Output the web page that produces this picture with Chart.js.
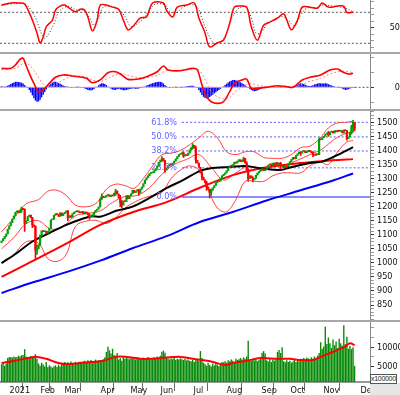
<!DOCTYPE html>
<html>
<head>
<meta charset="utf-8">
<script src="https://cdn.jsdelivr.net/npm/chart.js@4.4.0/dist/chart.umd.min.js"></script>
<style>
body { margin: 0; width: 400px; height: 395px; overflow: hidden; position: relative; background: #fff; }
canvas { position: absolute; left: 0; }
.sep { position: absolute; left: 0; width: 400px; height: 2px; background: #a8a8a8; }
#corner { position: absolute; left: 370px; top: 383px; width: 30px; height: 12px; background: #e6e6e6; }
#unit { position: absolute; left: 370px; top: 374px; width: 25px; height: 8px; border: 1px solid #555; background: #fff;
        font: 7px 'Liberation Sans', sans-serif; letter-spacing: -0.3px; line-height: 8px; color: #222; overflow: hidden; }
</style>
</head>
<body>
<canvas id="stoch" width="400" height="52" style="top:0"></canvas>
<div class="sep" style="top:52px"></div>
<canvas id="macd" width="400" height="55" style="top:54px"></canvas>
<div class="sep" style="top:109px"></div>
<canvas id="price" width="400" height="209" style="top:111px"></canvas>
<div class="sep" style="top:320px"></div>
<canvas id="volume" width="400" height="73" style="top:322px"></canvas>
<div id="corner"></div>
<div id="unit">x100000</div>

<script>
const FONT = "'Liberation Sans Narrow', 'DejaVu Sans Condensed', 'Liberation Sans', sans-serif";
const X_MIN = -1, X_MAX = 239;

const monthTicks = [3.5, 23.6, 39.2, 62.6, 82, 101.5, 122.9, 144.3, 167, 185.8, 207.2, 231.2];
const monthLabels = ["2021", "Feb", "Mar", "Apr", "May", "Jun", "Jul", "Aug", "Sep", "Oct", "Nov", "Dec"];

// daily closes, trading day 0 = late Dec 2020
const firstOpen = 1072;
const closes = [
    1078, 1086, 1094, 1103,
    1120, 1132, 1143, 1156, 1167, 1180, 1185, 1178, 1188, 1194, 1190, 1140, 1150, 1165, 1170, 1160, 1135, 1130, 1045, 1050,
    1065, 1095, 1114, 1111, 1113, 1105, 1112, 1123, 1153, 1155, 1169, 1175, 1172, 1165, 1178, 1168,
    1175, 1180, 1185, 1160, 1168, 1162, 1175, 1180, 1182, 1185, 1180, 1178, 1183, 1174, 1180, 1178, 1170, 1162, 1165, 1172, 1180, 1187, 1191,
    1199, 1228, 1237, 1232, 1234, 1240, 1242, 1236, 1240, 1238, 1248, 1256, 1245, 1230, 1215, 1205, 1220, 1218, 1239,
    1228, 1238, 1246, 1258, 1250, 1255, 1260, 1248, 1262, 1270, 1282, 1295, 1303, 1310, 1318, 1320, 1321, 1328, 1336, 1345,
    1358, 1366, 1372, 1362, 1330, 1338, 1345, 1352, 1348, 1355, 1362, 1370, 1378, 1385, 1388, 1392, 1380, 1385, 1382, 1390, 1402,
    1410, 1418, 1408, 1365, 1355, 1340, 1320, 1305, 1295, 1285, 1270, 1262, 1250, 1258, 1267, 1275, 1285, 1292, 1290, 1300, 1310,
    1315, 1320, 1328, 1338, 1345, 1343, 1350, 1358, 1355, 1362, 1367, 1360, 1365, 1372, 1355, 1332, 1300, 1310, 1302, 1295, 1300, 1312, 1320,
    1325, 1330, 1335, 1328, 1332, 1340, 1348, 1352, 1345, 1355, 1348, 1357, 1350, 1355, 1342, 1345, 1338, 1345, 1342,
    1352, 1360, 1368, 1375, 1370, 1382, 1388, 1393, 1390, 1396, 1398, 1392, 1395, 1400, 1396, 1392, 1385, 1382, 1388, 1385, 1440,
    1438, 1445, 1450, 1458, 1462, 1455, 1465, 1468, 1462, 1470, 1466, 1472, 1468, 1470, 1462, 1473, 1470, 1442, 1448, 1465, 1485, 1500, 1478
];

// [trading day, low, high] for the sessions with visible shadows
const wicks = [[13, 1180, 1199], [15, 1112, 1192], [20, 1125, 1162], [22, 1015, 1132], [23, 1030, 1062], [25, 1060, 1100],
    [43, 1150, 1186], [57, 1155, 1175], [65, 1225, 1245], [74, 1240, 1262], [77, 1200, 1240], [78, 1195, 1222],
    [89, 1240, 1262], [104, 1360, 1378], [106, 1322, 1365], [118, 1375, 1395], [124, 1405, 1424], [126, 1355, 1415],
    [130, 1295, 1325], [133, 1258, 1290], [135, 1231, 1262], [136, 1240, 1262], [157, 1360, 1376], [159, 1325, 1360],
    [160, 1290, 1335], [163, 1288, 1306], [181, 1335, 1358], [194, 1382, 1396], [202, 1378, 1396], [206, 1385, 1445],
    [212, 1450, 1468], [224, 1436, 1470], [227, 1458, 1490], [228, 1465, 1507], [229, 1470, 1500]];

const volumes = [
    5600, 6000, 5200, 5800,
    7200, 7400, 7500, 7300, 7600, 7400, 7500, 7800, 7600,
    7900, 8000, 9500,
    7600, 7300, 7500, 7700, 7400, 7600, 8200, 7000,
    5800, 5200, 6000, 5500, 5000, 6200,
    4800, 5300, 5000, 4700, 5100, 5300, 4900, 5500, 5000,
    5800, 6000, 6200, 5700, 6100, 5900, 6300, 5800, 6000, 6200, 5900, 6100, 6300, 6000, 6400,
    6500, 6300, 6600, 6400, 6700, 6200, 6500, 6800, 6400, 6600, 6700, 6500, 6900, 7400, 8800,
    10100, 9200, 8400, 9600, 8000, 7800, 8500,
    6800, 7200, 6500, 7600, 7000, 7400,
    7100, 6900, 7300, 7000, 7200, 6800, 7400, 7100, 6900, 7000, 7300, 6800, 7200, 7500, 7000, 6900, 7100, 7400, 7000, 7600, 7200, 7800,
    8800, 9100, 8600, 7500,
    7000, 6800, 7100, 6900, 7200, 6700, 7000, 6800, 7100, 6900, 6700, 7000, 6600, 6800, 6500,
    6400, 6700, 6200, 6600, 7000, 6500, 9000, 7200, 6000,
    5600, 5200, 6000, 5400, 5000, 5700, 5300, 5900, 5500, 5100, 5800, 6200,
    6100, 6400, 6000, 6600, 6300, 6800, 6500, 6200, 7000, 6700, 6900, 7200, 6800, 7400, 7000, 7600,
    11700,
    6800, 6500, 7000, 6600, 6900, 6400, 6700, 7100,
    8600, 9000, 8400,
    6600, 6300, 7000, 6200, 6800, 6500, 6900,
    8800, 9300, 8500, 10000,
    6400, 6100, 6600, 6200, 6500, 6000, 6300, 6700, 6200, 6600, 6400,
    7000, 6800, 7200, 6900, 7300, 7100, 6800, 7400, 7000, 7600, 7200, 7800, 8500,
    11300, 9600, 10200,
    15300,
    10800, 12500, 11000, 9800, 12000, 10500, 11500, 9800, 12200, 11000, 10400,
    15700,
    10800, 12700, 9600, 10300, 9500, 10000, 5200
];

const macdHist = [
    0.8, 0.6, 0.5, 0.7, 1.0, 1.5, 2.2, 2.8, 3.3, 3.7,
    3.8, 3.6, 3.4, 3.1, 2.5, 1.5, 0.5, -0.5, -1.8, -3.5, -5.5,
    -7.5, -9.0, -9.8, -9.6, -8.5, -6.8, -5.0, -3.2, -1.5,
    0.2, 1.4, 2.4, 3.2, 3.7, 3.8, 3.5, 3.0, 2.4, 1.8, 1.2, 0.8, 0.5,
    0.2, 0.0, -0.2, -0.4, -0.3, -0.2, 0.1, 0.2, -0.1, -0.3, -0.5, -0.8,
    -1.2, -1.8, -2.0, -2.1, -1.8, -1.2, -0.4, 0.5,
    1.4, 2.2, 2.7, 2.6, 2.2, 1.5, 0.6,
    -0.3, -1.0, -1.5, -1.8, -1.7, -1.4, -1.0, -1.3,
    -1.7, -2.0, -2.0, -1.8, -1.5, -1.2, -1.0, -0.8,
    -0.9, -1.0, -1.0, -0.8, -0.5, -0.2, 0.2, 0.6, 1.1,
    1.6, 2.0, 2.4, 2.8, 3.1, 3.4, 3.6, 3.8, 3.7, 3.4, 2.6, 1.6,
    0.8, 0.3, -0.1, -0.3, -0.2, 0.0, 0.1, -0.1, -0.3, -0.2, 0.1, 0.3, 0.5, 0.7,
    0.9, 1.0, 1.1, 1.0, 0.7, 0.3, -0.5, -1.8,
    -3.5, -5.2, -6.5, -7.3, -7.5, -7.2, -6.6, -5.8, -5.0, -4.2, -3.4, -2.6, -1.8, -1.0, -0.3,
    0.6, 1.5, 2.4, 3.2, 3.9, 4.5, 4.9, 5.0, 4.8, 4.4, 3.9, 3.4, 2.8, 2.1, 1.4, 0.6, -0.2,
    -1.0, -1.8, -2.4, -2.7, -2.5, -2.1, -1.6, -1.1, -0.6, -0.2,
    0.2, 0.4, 0.5, 0.5, 0.4, 0.3, 0.2, 0.3, 0.4, 0.2, 0.1, 0.4, 0.8, 1.0, 0.9, 0.6, 0.4, 0.3, 0.5, 0.9, 1.4,
    1.9, 2.4, 2.7, 2.6, 2.2, 1.7, 1.2, 0.9, 0.8, 1.0, 1.4, 1.9, 2.3,
    2.6, 2.7, 2.7, 2.6, 2.6, 2.7, 2.5, 2.1, 1.7, 1.3, 0.9, 0.6, 0.3, 0.1, -0.2, -0.5, -0.9,
    -1.4, -1.8, -1.7, -1.3, -0.8, -0.5, -0.4, -0.5
];

// [trading day, value] pairs
const ma200 = [[0,893],[20,930],[42,967],[64,1008],[85,1052],[107,1095],[129,1146],[150,1181],[172,1222],[194,1258],[215,1293],[228,1318]];
const ma100 = [[0,950],[20,1006],[42,1068],[64,1135],[85,1180],[107,1216],[129,1268],[150,1312],[172,1340],[194,1355],[215,1365],[228,1369]];
const ma50 = [[0,999],[10,1035],[20,1076],[31,1106],[42,1135],[53,1158],[59,1166],[64,1164],[75,1186],[85,1200],[96,1231],[107,1266],
    [118,1295],[129,1328],[135,1336],[148,1341],[159,1344],[169,1336],[181,1330],[187,1339],[200,1355],[208,1360],[218,1384],[228,1412]];
const bbMid = [[0,1050],[8,1090],[16,1140],[24,1150],[32,1120],[40,1130],[48,1168],[56,1176],[64,1185],[72,1215],[80,1236],[88,1240],
    [96,1268],[104,1315],[112,1350],[120,1368],[128,1385],[136,1340],[144,1295],[152,1320],[160,1345],[168,1330],[176,1342],[184,1348],
    [192,1365],[200,1385],[208,1405],[216,1440],[224,1462],[228,1465]];
const bbUpper = [[0,1110],[8,1160],[16,1210],[24,1225],[30,1255],[36,1258],[42,1240],[48,1205],[56,1200],[62,1215],[68,1262],[74,1280],
    [80,1275],[86,1265],[92,1300],[98,1345],[104,1385],[110,1390],[116,1400],[122,1420],[128,1445],[134,1468],[140,1445],[146,1395],
    [152,1385],[158,1395],[164,1395],[170,1375],[176,1372],[182,1372],[188,1385],[194,1410],[200,1415],[206,1440],[212,1480],[218,1498],
    [224,1500],[228,1505]];
const bbLower = [[0,1000],[8,1030],[16,1075],[24,1070],[30,1015],[36,1005],[42,1030],[48,1130],[56,1150],[62,1150],[68,1140],[74,1160],
    [80,1195],[86,1215],[92,1230],[98,1240],[104,1250],[110,1300],[116,1330],[122,1345],[128,1330],[134,1260],[140,1195],[146,1182],
    [152,1225],[158,1290],[164,1290],[170,1290],[176,1310],[182,1320],[188,1320],[194,1320],[200,1345],[206,1360],[212,1350],[218,1395],
    [224,1430],[228,1435]];
const fibLevels = [1500, 1448, 1398, 1338, 1234];
const fibLabels = ["61.8%", "50.0%", "38.2%", "23.6%", "0.0%"];
const fibStart = 117;

const stochK = [[0,94],[6,98],[12,98],[15,96],[18,79],[20,65],[23,40],[25,21],[27,32],[29,52],[33,65],[35,84],[38,92],[41,94],[44,88],
    [48,81],[51,86],[54,84],[56,71],[59,44],[62,65],[64,94],[68,94],[72,90],[76,86],[79,65],[82,46],[85,52],[90,69],[94,71],[98,98],
    [105,98],[107,84],[111,71],[114,90],[120,94],[125,98],[128,69],[132,40],[135,13],[140,21],[144,26],[148,59],[151,90],[155,92],
    [159,90],[162,52],[166,26],[170,55],[174,61],[179,69],[183,77],[185,65],[188,46],[192,65],[195,90],[200,90],[205,88],[208,98],
    [212,90],[218,92],[222,92],[224,80],[228,80]];
const stochD = [[0,93],[6,96],[12,97],[16,95],[20,80],[23,62],[26,38],[28,30],[31,40],[34,58],[37,80],[41,90],[45,90],[49,84],[53,84],
    [57,70],[60,55],[63,70],[66,90],[70,92],[75,88],[80,72],[84,52],[88,58],[92,68],[96,85],[100,96],[106,94],[109,82],[113,78],
    [117,88],[122,95],[127,90],[130,68],[134,38],[138,20],[142,22],[146,40],[150,72],[154,88],[158,91],[162,70],[165,40],[168,40],
    [172,56],[177,65],[182,72],[186,64],[190,54],[194,74],[198,88],[204,89],[208,94],[213,93],[218,91],[223,88],[228,81]];
const stochLevels = [80, 20];

const macdLine = [[0,12.9],[6,12.9],[9,15.2],[12,19],[14,19.7],[15,17.4],[18,9.5],[22,0.4],[24,-3],[27,-1.8],[31,2.7],[35,6.8],
    [40,8.4],[46,7.7],[55,6.1],[59,3.1],[64,5],[69,9.9],[74,10.6],[78,8.4],[82,5.4],[90,5.9],[94,7.2],[101,10.6],[105,14.5],
    [108,11.8],[116,11.3],[124,12.9],[127,11.8],[130,1.6],[133,-6.4],[136,-9.8],[140,-10.9],[144,-9.8],[148,-3],[151,2.7],[156,5],
    [159,5.6],[162,-0.7],[166,-0.7],[172,0],[179,1.1],[185,0.4],[189,0],[195,5],[200,6.8],[207,8.4],[213,11.8],[218,12.4],
    [221,10.6],[225,9],[228,9.5]];
const macdSignal = [[0,12],[9,13],[15,16.5],[18,15],[22,10],[25,5],[28,1],[31,0],[35,2],[40,5],[46,7.5],[55,7],[59,5],[64,4],[69,6],
    [74,8.5],[78,9.5],[82,8],[90,6.5],[94,6.5],[101,8],[105,10.5],[108,11.5],[116,11.5],[124,12],[127,12.5],[130,9],[133,3],[136,-3],
    [140,-6.5],[144,-8],[148,-7],[151,-3.5],[156,0],[159,2],[162,2.5],[166,1.5],[172,0.5],[179,0.5],[185,0.5],[189,0],[195,2],[200,4],
    [207,6],[213,9],[218,10.5],[221,11],[225,10.5],[228,10]];

const volMa = [[0,5900],[8,6450],[17,7200],[23,7500],[29,7000],[37,5900],[42,5650],[51,5900],[59,6200],[66,6500],[74,7500],[81,7500],
    [90,7000],[96,7000],[103,7200],[116,7500],[124,7000],[137,6200],[145,5400],[150,5900],[159,6500],[168,7200],[179,7000],[187,7000],
    [194,6700],[202,6700],[207,7500],[215,8800],[222,10000],[226,11000],[229,10500]];

const UP = '#00a000', DOWN = '#ff0000';

function toXY(pairs) {
    return pairs.map(p => ({x: p[0], y: p[1]}));
}

function openOf(i) {
    return i ? closes[i - 1] : firstOpen;
}

function line(pairs, color, width, dash, order) {
    return {
        type: 'line', data: toXY(pairs), borderColor: color, borderWidth: width,
        borderDash: dash || [], pointRadius: 0, tension: 0.35, fill: false, order: order
    };
}

function hline(value, from, to, color, width, dash, order) {
    return line([[from, value], [to, value]], color, width, dash, order);
}

function rightAxis(min, max, step, labels, far) {
    return {
        position: 'right', min: min, max: max,
        afterFit: s => { s.width = 30; s.paddingTop = 0; s.paddingBottom = 0; },
        afterBuildTicks: s => {
            const t = [];
            for (let v = Math.ceil(min / step) * step; v <= max; v += step) t.push({value: v});
            s.ticks = t;
        },
        ticks: {
            autoSkip: false, padding: 3, crossAlign: far ? 'far' : 'near', color: '#111',
            font: {family: FONT, size: 9},
            callback: v => labels.includes(v) ? String(v) : ''
        },
        grid: {
            drawOnChartArea: false, tickLength: 4,
            tickColor: c => labels.includes(c.tick.value) ? '#333' : '#999'
        },
        border: {color: '#888', width: 1}
    };
}

const hiddenX = {type: 'linear', min: X_MIN, max: X_MAX, offset: false, display: false};

const bottomX = {
    type: 'linear', min: X_MIN, max: X_MAX, offset: false, position: 'bottom',
    afterFit: s => { s.height = 13; s.paddingLeft = 0; s.paddingRight = 0; },
    afterBuildTicks: s => { s.ticks = monthTicks.map(v => ({value: v})); },
    ticks: {
        autoSkip: false, maxRotation: 0, minRotation: 0, align: 'start', padding: -6, color: '#111',
        font: {family: FONT, size: 9},
        callback: (v, i) => ' ' + monthLabels[i]
    },
    grid: {drawOnChartArea: false, tickLength: 9, color: '#666'},
    border: {color: '#999', width: 2}
};

function baseOptions(x, y) {
    return {
        responsive: false, animation: false, events: [],
        layout: {padding: 0},
        plugins: {legend: {display: false}, tooltip: {enabled: false}},
        scales: {x: x, y: y}
    };
}

const fibText = {
    id: 'fibText',
    afterDatasetsDraw(chart) {
        const ctx = chart.ctx, y = chart.scales.y;
        ctx.save();
        ctx.font = "9px " + FONT;
        ctx.fillStyle = '#6464ff';
        ctx.textAlign = 'right';
        ctx.textBaseline = 'middle';
        fibLevels.forEach((v, i) => ctx.fillText(fibLabels[i], 177, y.getPixelForValue(v)));
        ctx.restore();
    }
};

// stochastic
new Chart(document.getElementById("stoch"), {
    type: 'line',
    data: {
        datasets: [
            line(stochK, '#ff0000', 1.5, null, 1),
            line(stochD, '#333333', 1, [1, 2], 2),
            hline(stochLevels[0], X_MIN, X_MAX, '#555555', 1, [2, 2], 3),
            hline(stochLevels[1], X_MIN, X_MAX, '#555555', 1, [2, 2], 3)
        ]
    },
    options: baseOptions(hiddenX, rightAxis(3.16, 103.8, 12.5, [50], true))
});

// macd
new Chart(document.getElementById("macd"), {
    type: 'bar',
    data: {
        datasets: [
            line(macdLine, '#ff0000', 1.6, null, 1),
            line(macdSignal, '#ff8080', 1, [2, 2], 2),
            {
                type: 'bar', data: macdHist.map((v, i) => ({x: i, y: v})),
                backgroundColor: '#0000ff', barPercentage: 0.9, categoryPercentage: 1, order: 3
            },
            hline(0, X_MIN, closes.length - 1, '#ff9090', 1, null, 4),
            hline(0, closes.length - 1, X_MAX, '#555555', 1, [2, 2], 4)
        ]
    },
    options: baseOptions(hiddenX, rightAxis(-14.76, 22.65, 10, [0], true))
});

// price
const priceSets = [
    {
        type: 'bar', grouped: false,
        data: closes.map((c, i) => ({x: i, y: [openOf(i), c]})),
        backgroundColor: closes.map((c, i) => c >= openOf(i) ? UP : DOWN),
        barPercentage: 1, categoryPercentage: 1, minBarLength: 1, order: 1
    },
    {
        type: 'bar', grouped: false,
        data: wicks.map(w => ({x: w[0], y: [w[1], w[2]]})),
        backgroundColor: wicks.map(w => closes[w[0]] >= openOf(w[0]) ? UP : DOWN),
        barThickness: 1, order: 1
    },
    line(ma50, '#000000', 2, null, 2),
    line(ma100, '#ff0000', 2, null, 3),
    line(ma200, '#0000ff', 2, null, 4),
    line(bbUpper, '#ff4040', 1, null, 5),
    line(bbMid, '#ff4040', 1, null, 5),
    line(bbLower, '#ff4040', 1, null, 5)
];
fibLevels.forEach((v, i) => {
    const last = i === fibLevels.length - 1;
    priceSets.push(hline(v, fibStart, X_MAX, last ? '#8c8cff' : '#5a5aff', last ? 2 : 1, last ? null : [2, 2], 6));
});

new Chart(document.getElementById("price"), {
    type: 'bar',
    data: {datasets: priceSets},
    options: baseOptions(hiddenX, rightAxis(796.7, 1540.2, 12.5, [850, 900, 950, 1000, 1050, 1100, 1150, 1200, 1250, 1300, 1350, 1400, 1450, 1500], false)),
    plugins: [fibText]
});

// volume
new Chart(document.getElementById("volume"), {
    type: 'bar',
    data: {
        datasets: [
            line(volMa, '#ff0000', 2, null, 1),
            {
                type: 'bar', data: volumes.map((v, i) => ({x: i, y: v})),
                backgroundColor: '#088a08', barPercentage: 0.9, categoryPercentage: 1, order: 2
            }
        ]
    },
    options: baseOptions(bottomX, rightAxis(1005, 16521, 2500, [5000, 10000], false))
});
</script>
</body>
</html>
